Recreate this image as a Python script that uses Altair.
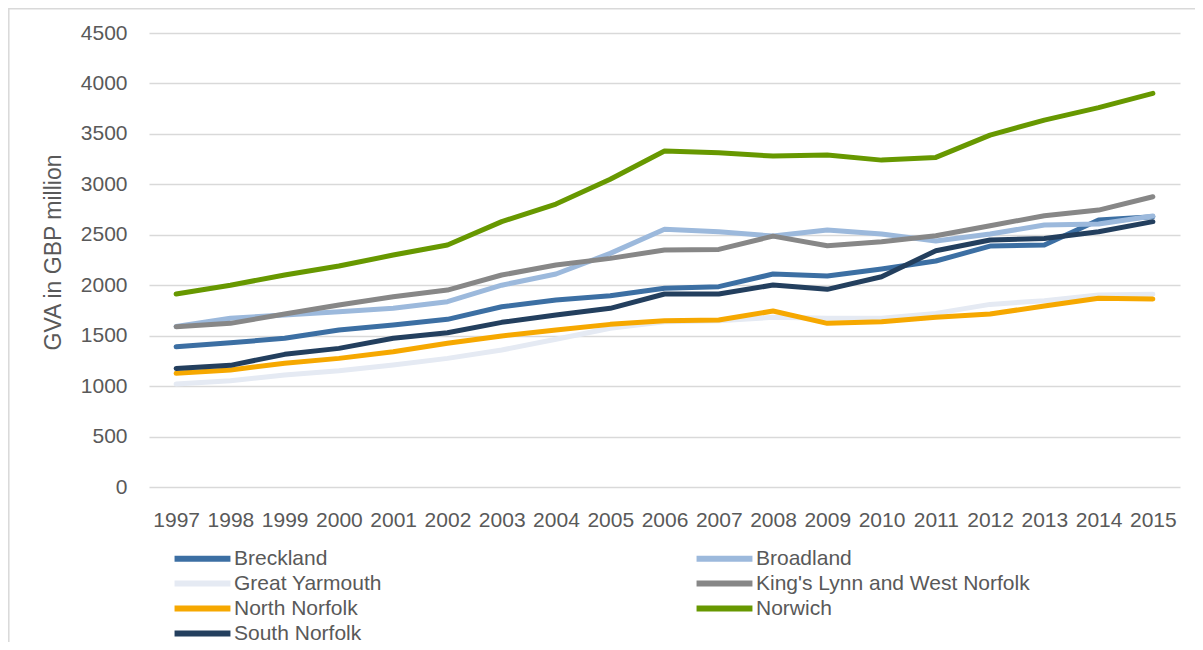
import altair as alt
import pandas as pd

years = [str(y) for y in range(1997, 2016)]

series_names = ["Breckland", "Broadland", "Great Yarmouth", "King's Lynn and West Norfolk",
                "North Norfolk", "Norwich", "South Norfolk"]
series_colors = ["#3C6FA3", "#9CB9DC", "#E5EAF3", "#878787", "#F6A800", "#679800", "#233F5E"]

breckland = [1390, 1430, 1474, 1556, 1606, 1662, 1787, 1853, 1896, 1969, 1986, 2111, 2091, 2160, 2240, 2388, 2398, 2646, 2679]
broadland = [1590, 1672, 1705, 1738, 1771, 1837, 2000, 2111, 2316, 2554, 2531, 2487, 2547, 2507, 2438, 2507, 2597, 2607, 2686]
great_yarmouth = [1021, 1054, 1110, 1153, 1209, 1275, 1358, 1464, 1573, 1638, 1648, 1682, 1672, 1672, 1721, 1810, 1847, 1903, 1910]
kings_lynn = [1589, 1622, 1715, 1804, 1886, 1952, 2101, 2200, 2266, 2349, 2355, 2487, 2392, 2431, 2491, 2590, 2689, 2745, 2877]
north_norfolk = [1127, 1160, 1226, 1275, 1341, 1424, 1497, 1556, 1612, 1648, 1655, 1744, 1622, 1638, 1682, 1715, 1794, 1870, 1863]
norwich = [1913, 2000, 2101, 2190, 2299, 2398, 2630, 2805, 3050, 3330, 3313, 3280, 3290, 3240, 3267, 3488, 3637, 3760, 3902]
south_norfolk = [1175, 1206, 1315, 1374, 1474, 1529, 1632, 1705, 1771, 1913, 1913, 2002, 1959, 2084, 2342, 2448, 2464, 2530, 2630]

series_values = [breckland, broadland, great_yarmouth, kings_lynn, north_norfolk, norwich, south_norfolk]

rows = []
for i, (name, vals) in enumerate(zip(series_names, series_values)):
    for y, v in zip(years, vals):
        rows.append({"Year": y, "District": name, "GVA": v, "order": i})
df = pd.DataFrame(rows)

text_color = "#595959"
font = "Liberation Sans"

W, H = 1031, 454

lines = alt.Chart(df).mark_line(strokeWidth=5, strokeCap="round", strokeJoin="round").encode(
    x=alt.X("Year:O", sort=years,
            scale=alt.Scale(type="point", padding=0.5),
            axis=alt.Axis(title=None, labelAngle=0, ticks=False, domain=False,
                          labelPadding=22, labelFontSize=21, labelColor=text_color, labelFont=font,
                          grid=False)),
    y=alt.Y("GVA:Q",
            scale=alt.Scale(domain=[0, 4500], nice=False),
            axis=alt.Axis(title="GVA in GBP million", values=list(range(0, 4501, 500)),
                          format="d", ticks=False, domain=False, labelPadding=22,
                          labelFontSize=21, labelColor=text_color, labelFont=font,
                          titleFontSize=23, titleColor=text_color, titleFont=font,
                          titleFontWeight="normal", titlePadding=15, titleY=219,
                          gridColor="#D9D9D9", gridWidth=1.6)),
    color=alt.Color("District:N",
                    scale=alt.Scale(domain=series_names, range=series_colors),
                    legend=alt.Legend(title=None, orient="none", legendX=43, legendY=515,
                                      direction="horizontal",
                                      columns=2, columnPadding=302, rowPadding=0,
                                      symbolType="M-5,0L5,0", symbolSize=125,
                                      symbolStrokeWidth=6, labelOffset=21,
                                      labelFontSize=21, labelColor=text_color, labelFont=font,
                                      padding=0, labelLimit=400)),
    order=alt.Order("order:Q"),
    detail="District:N",
)

# light outer frame of the chart (top and left edges visible, as in the reference)
frame = alt.Chart(pd.DataFrame({"f": [0]})).mark_rect(
    fill=None, stroke="#D9D9D9", strokeWidth=1.5, clip=False
).encode(
    x=alt.value(-140.2), x2=alt.value(W + 40),
    y=alt.value(-24.2), y2=alt.value(H + 200),
)

chart = alt.layer(frame, lines).properties(
    width=W, height=H,
    padding={"left": 141, "top": 25, "right": 15, "bottom": 155},
    autosize=alt.AutoSizeParams(type="none"),
    background="white",
).configure_view(stroke=None)

chart.save("out.html", embed_options={"renderer": "svg", "actions": False})
